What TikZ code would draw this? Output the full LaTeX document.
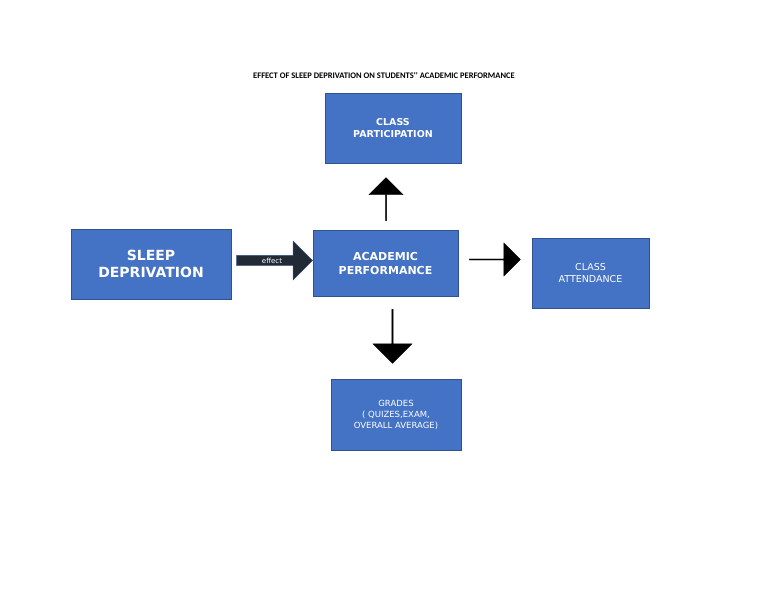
\documentclass[tikz,border=0pt]{standalone}
\usepackage{fontspec}
\setmainfont{DejaVu Sans}
\newfontfamily\titlefont{Carlito}
\usetikzlibrary{shapes.arrows}
\definecolor{boxblue}{RGB}{68,114,196}
\definecolor{boxedge}{RGB}{47,82,143}
\definecolor{effectfill}{RGB}{34,42,53}
\begin{document}
\begin{tikzpicture}[
    x=1pt, y=-1pt,
    box/.style={rectangle, draw=boxedge, fill=boxblue, text=white, align=center, inner sep=2pt},
    bigarrow/.style={single arrow, fill=black, draw=black, inner sep=0pt, single arrow head extend=6pt, single arrow tip angle=90},
    effectarrow/.style={single arrow, fill=effectfill, draw=boxedge, text=white, inner sep=0pt, font=\fontsize{7}{8}\selectfont}
]
\useasboundingbox (0,0) rectangle (768,594);

% Title
\node (title) at (384,76) {\titlefont\bfseries\fontsize{8.5}{10}\selectfont EFFECT OF SLEEP DEPRIVATION ON STUDENTS'' ACADEMIC PERFORMANCE};

% Boxes
\node[box, minimum width=160, minimum height=70, font=\bfseries\fontsize{14}{17}\selectfont] (sleep) at (151,264) {SLEEP\\DEPRIVATION};
\node[box, minimum width=145, minimum height=66, font=\bfseries\fontsize{11}{14}\selectfont] (academic) at (385.5,263) {ACADEMIC\\PERFORMANCE};
\node[box, minimum width=136, minimum height=70, font=\bfseries\fontsize{9.5}{12}\selectfont] (participation) at (393,128) {CLASS\\PARTICIPATION};
\node[box, minimum width=117, minimum height=70, font=\fontsize{9.5}{12}\selectfont] (attendance) at (590.5,273) {CLASS\\ATTENDANCE};
\node[box, minimum width=130, minimum height=71, font=\fontsize{8.5}{11}\selectfont] (grades) at (396,414.5) {GRADES\\( QUIZES,EXAM,\\OVERALL AVERAGE)};

% Arrows
\node[effectarrow, minimum height=76, minimum width=39, single arrow head extend=8pt] (effect) at (272,260.5) {effect\hspace{14pt}};
\node[bigarrow, minimum height=43, minimum width=34, shape border rotate=90] (up) at (386,199.5) {};
\node[bigarrow, minimum height=51, minimum width=33, shape border rotate=0] (right) at (494.5,259.5) {};
\node[bigarrow, minimum height=54, minimum width=39, shape border rotate=270] (down) at (392.5,336) {};

\end{tikzpicture}
\end{document}
